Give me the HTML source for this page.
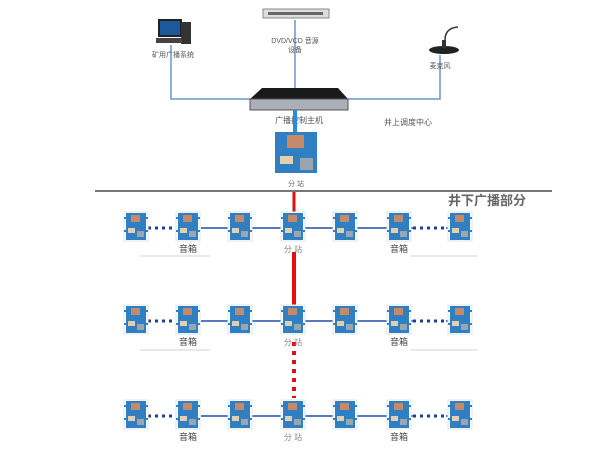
<!DOCTYPE html>
<html><head><meta charset="utf-8"><style>
body{margin:0;background:#fff}
svg{display:block}
text{font-family:"Liberation Sans","Noto Sans CJK SC",sans-serif}
</style></head><body>
<svg width="600" height="450" viewBox="0 0 600 450" xmlns="http://www.w3.org/2000/svg">
<defs>
<g id="bx">
<rect x="-12" y="0" width="24" height="29" fill="#fff" stroke="#d8e4ee" stroke-width="1"/>
<rect x="-10" y="1" width="20" height="27" fill="#2f7fc2"/>
<rect x="-5" y="3" width="9" height="7" fill="#c48a6a"/>
<rect x="-8" y="16" width="7" height="5" fill="#e0d0b0"/>
<rect x="1" y="19" width="7" height="6" fill="#9aa5ad"/>
<rect x="-12" y="5" width="2" height="2" fill="#2f7fc2"/><rect x="10" y="5" width="2" height="2" fill="#2f7fc2"/>
<rect x="-12" y="18" width="2" height="2" fill="#2f7fc2"/><rect x="10" y="18" width="2" height="2" fill="#2f7fc2"/>
</g>
<g id="row">
<line x1="141" y1="16" x2="176" y2="16" stroke="#1f3f9a" stroke-width="3" stroke-dasharray="3,4"/>
<line x1="201" y1="16" x2="470" y2="16" stroke="#5a78c0" stroke-width="2"/>
<line x1="413" y1="16" x2="446" y2="16" stroke="#fff" stroke-width="4"/>
<line x1="413" y1="16" x2="446" y2="16" stroke="#1f3f9a" stroke-width="3" stroke-dasharray="3,4"/>
<use href="#bx" x="136"/><use href="#bx" x="188"/><use href="#bx" x="240"/><use href="#bx" x="293"/>
<use href="#bx" x="345"/><use href="#bx" x="399"/><use href="#bx" x="460"/>
<text x="188" y="40" font-size="9" text-anchor="middle" fill="#444">音箱</text>
<text x="399" y="40" font-size="9" text-anchor="middle" fill="#444">音箱</text>
<text x="293" y="40" font-size="8" text-anchor="middle" fill="#888">分  站</text>
</g>
</defs>
<!-- top blue lines -->
<polyline points="171,45 171,99 252,99" fill="none" stroke="#6a96cf" stroke-width="1.5"/>
<line x1="295" y1="20" x2="295" y2="90" stroke="#6a96cf" stroke-width="1.5"/>
<polyline points="346,99 440,99 440,55" fill="none" stroke="#6a96cf" stroke-width="1.5"/>
<!-- computer -->
<rect x="158" y="19" width="24" height="18" fill="#222"/>
<rect x="160" y="21" width="20" height="14" fill="#1a5a9a"/>
<rect x="181" y="22" width="10" height="22" fill="#333"/>
<rect x="156" y="38" width="26" height="5" fill="#444"/>
<text x="173" y="57" font-size="7" text-anchor="middle" fill="#555">矿用广播系统</text>
<!-- DVD -->
<rect x="263" y="9" width="66" height="9" fill="#ddd" stroke="#888"/>
<rect x="268" y="12" width="55" height="3" fill="#666"/>
<text x="295" y="43" font-size="7" text-anchor="middle" fill="#555">DVD/VCD 音源</text>
<text x="295" y="52" font-size="7" text-anchor="middle" fill="#555">设备</text>
<!-- mic -->
<path d="M445 40 Q445 28 458 27" fill="none" stroke="#333" stroke-width="1.5"/>
<ellipse cx="444" cy="50" rx="15" ry="4" fill="#222"/>
<rect x="442" y="40" width="4" height="8" fill="#333"/>
<text x="440" y="68" font-size="7" text-anchor="middle" fill="#555">麦克风</text>
<!-- host -->
<polygon points="262,88 338,88 348,99 250,99" fill="#1a1a1a"/>
<rect x="250" y="99" width="98" height="11" fill="#aab0b5" stroke="#555"/>
<text x="299" y="123" font-size="8" text-anchor="middle" fill="#555">广播控制主机</text>
<text x="408" y="125" font-size="8" text-anchor="middle" fill="#555">井上调度中心</text>
<line x1="295" y1="110" x2="295" y2="132" stroke="#2a8ad8" stroke-width="4"/>
<!-- controller -->
<rect x="275" y="132" width="42" height="41" fill="#2f7fc2"/>
<rect x="287" y="135" width="17" height="13" fill="#c48a6a"/>
<rect x="280" y="156" width="13" height="8" fill="#e0d0b0"/>
<rect x="300" y="158" width="13" height="12" fill="#9aa5ad"/>
<text x="296" y="186" font-size="7" text-anchor="middle" fill="#666">分  站</text>
<!-- gray line -->
<line x1="95" y1="191" x2="552" y2="191" stroke="#777" stroke-width="2"/>
<text x="448" y="205" font-size="13" font-weight="bold" fill="#666">井下广播部分</text>
<!-- red lines -->
<line x1="294" y1="192" x2="294" y2="212" stroke="#e01010" stroke-width="3"/>
<line x1="294" y1="252" x2="294" y2="306" stroke="#e01010" stroke-width="4"/>
<line x1="294" y1="342" x2="294" y2="398" stroke="#e01010" stroke-width="4" stroke-dasharray="4,5"/>
<!-- rows -->
<use href="#row" y="212"/>
<use href="#row" y="305"/>
<use href="#row" y="400"/>
<line x1="140" y1="256" x2="210" y2="256" stroke="#c8d4e0"/>
<line x1="410" y1="256" x2="478" y2="256" stroke="#c8d4e0"/>
<line x1="140" y1="350" x2="210" y2="350" stroke="#c8d4e0"/>
<line x1="410" y1="350" x2="478" y2="350" stroke="#c8d4e0"/>
</svg>
</body></html>
